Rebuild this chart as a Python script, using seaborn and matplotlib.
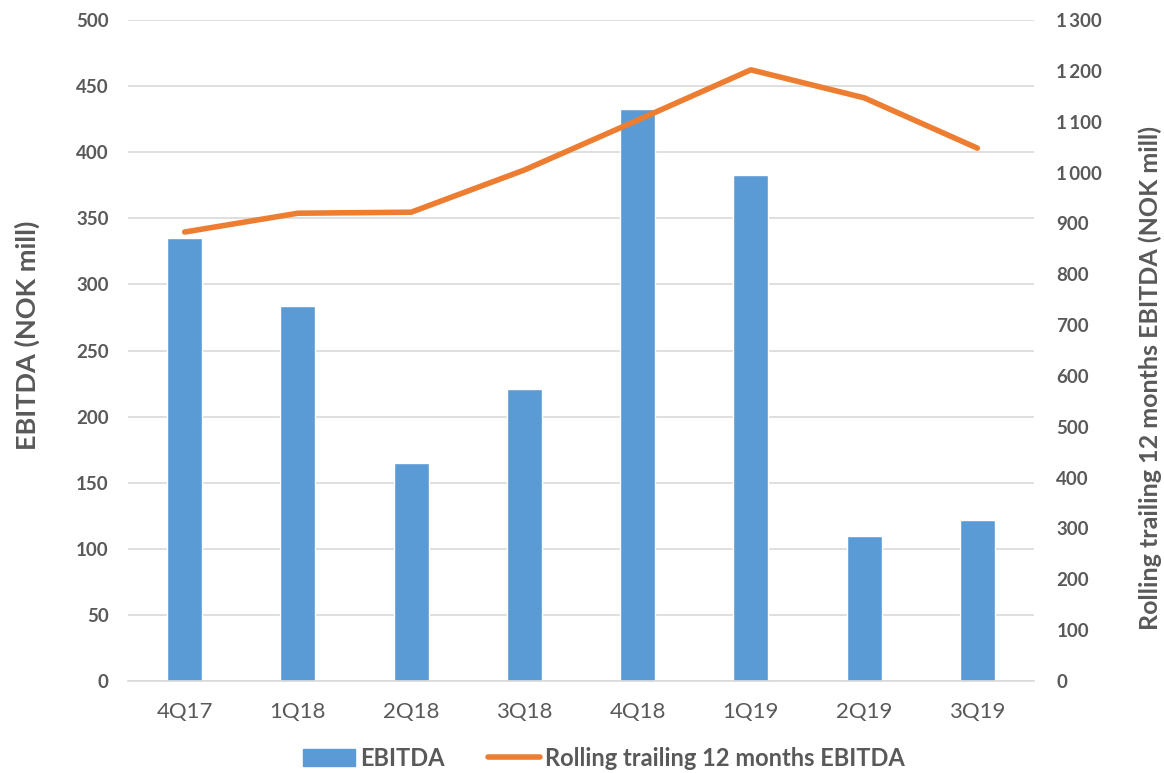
import matplotlib
matplotlib.use("Agg")
import matplotlib.pyplot as plt
import seaborn as sns
import pandas as pd
from matplotlib.lines import Line2D
from matplotlib.patches import Patch
from matplotlib.ticker import FuncFormatter

quarters = ["4Q17", "1Q18", "2Q18", "3Q18", "4Q18", "1Q19", "2Q19", "3Q19"]
ebitda = [335, 284, 165, 221, 433, 383, 110, 122]
rolling = [883, 920, 922, 1005, 1103, 1202, 1147, 1048]

left_ticks = list(range(0, 501, 50))
right_ticks = list(range(0, 1301, 100))

sns.set_theme(style="white")
plt.rcParams['font.family'] = ['Lato', 'DejaVu Sans']

BAR = "#5B9BD5"
LINE = "#ED7D31"
TXT = "#595959"
GRID = "#D9D9D9"

df = pd.DataFrame({"quarter": quarters, "ebitda": ebitda, "rolling": rolling})

W, H = 1164, 773
fig = plt.figure(figsize=(W / 100, H / 100), dpi=100)
ax = fig.add_axes([128 / W, 1 - 681 / H, (1034 - 128) / W, (681 - 20) / H])

sns.barplot(data=df, x="quarter", y="ebitda", color=BAR, width=0.31,
            saturation=1, ax=ax, zorder=2)
ax.set_xlim(-0.5, 7.5)
ax.set_ylim(0, 500)
ax.set_yticks(left_ticks)
ax.yaxis.grid(True, color=GRID, linewidth=1.2, zorder=0)
ax.set_axisbelow(True)
for s in ["top", "right", "left"]:
    ax.spines[s].set_visible(False)
ax.spines["bottom"].set_color(GRID)
ax.spines["bottom"].set_linewidth(1.2)
ax.tick_params(axis="both", length=0)
ax.tick_params(axis="y", pad=14, labelsize=13.5, labelcolor=TXT)
ax.tick_params(axis="x", pad=15, labelsize=16, labelcolor=TXT)
for t in ax.get_yticklabels():
    t.set_fontweight("bold")
ax.set_xlabel("")
ax.set_ylabel("")

ax2 = ax.twinx()
sns.lineplot(data=df, x="quarter", y="rolling", color=LINE, linewidth=4,
             ax=ax2, sort=False)
ax2.set_ylim(0, 1300)
ax2.set_yticks(right_ticks)
ax2.yaxis.set_major_formatter(
    FuncFormatter(lambda v, p: f"{int(v):,}".replace(",", "\u2009")))
for s in ["top", "right", "left", "bottom"]:
    ax2.spines[s].set_visible(False)
ax2.tick_params(axis="y", length=0, pad=16, labelsize=13.5, labelcolor=TXT)
for t in ax2.get_yticklabels():
    t.set_fontweight("bold")
ax2.set_ylabel("")
ax2.set_xlabel("")
ax2.grid(False)

fig.text(27 / W, 1 - 335 / H, "EBITDA (NOK mill)", rotation=90,
         ha="center", va="center", fontsize=19.5, fontweight="bold", color=TXT)
fig.text(1150 / W, 1 - 378 / H, "Rolling trailing 12 months EBITDA (NOK mill)",
         rotation=90, ha="center", va="center", fontsize=18,
         fontweight="bold", color=TXT)

handles = [Patch(facecolor=BAR, edgecolor=BAR),
           Line2D([0], [0], color=LINE, linewidth=4)]
leg = fig.legend(handles, ["EBITDA", "Rolling trailing 12 months EBITDA"],
                 loc="center", bbox_to_anchor=(604 / W, 1 - 758 / H), ncol=2,
                 frameon=False, handlelength=2.2, columnspacing=1.8,
                 handletextpad=0.25, prop={"weight": "bold", "size": 17})
for t in leg.get_texts():
    t.set_color(TXT)

fig.savefig("out.png", dpi=100)
